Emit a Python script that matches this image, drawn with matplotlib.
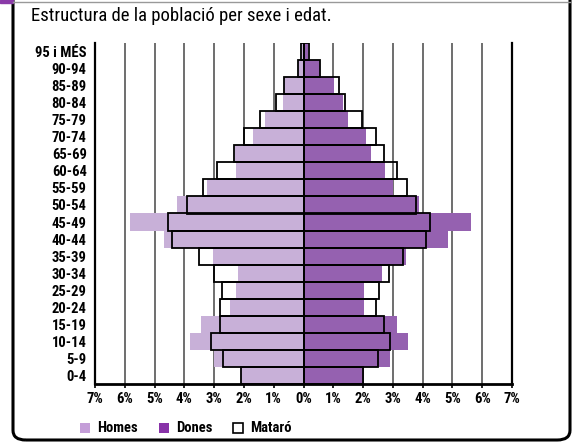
import matplotlib
matplotlib.use("Agg")
import matplotlib.pyplot as plt
from matplotlib import font_manager
from matplotlib.patches import FancyBboxPatch, Rectangle
import numpy as np

# age groups, bottom to top
ages = ['0-4', '5-9', '10-14', '15-19', '20-24', '25-29', '30-34', '35-39',
        '40-44', '45-49', '50-54', '55-59', '60-64', '65-69', '70-74',
        '75-79', '80-84', '85-89', '90-94', '95 i MÉS']

# % of population (district)
homes = [2.09, 3.02, 3.82, 3.44, 2.47, 2.27, 2.19, 3.04, 4.68, 5.82,
         4.25, 3.23, 2.27, 2.30, 1.70, 1.28, 0.68, 0.64, 0.19, 0.05]
dones = [2.01, 2.90, 3.51, 3.14, 2.03, 2.03, 2.63, 3.43, 4.85, 5.63,
         3.89, 3.00, 2.73, 2.26, 2.09, 1.50, 1.33, 1.03, 0.56, 0.15]

# % of population (Mataró, outline)
mat_homes = [2.09, 2.69, 3.10, 2.81, 2.79, 2.74, 3.00, 3.52, 4.41, 4.54,
             3.90, 3.36, 2.89, 2.35, 2.00, 1.46, 0.94, 0.64, 0.19, 0.07]
mat_dones = [2.01, 2.50, 2.89, 2.69, 2.42, 2.52, 2.86, 3.35, 4.11, 4.24,
             3.77, 3.48, 3.14, 2.69, 2.44, 1.98, 1.41, 1.18, 0.56, 0.18]

ticks = list(range(-7, 8))
tick_labels = [f'{abs(t)}%' for t in ticks]
legend_labels = ['Homes', 'Dones', 'Mataró']

c_homes = '#c8b0d8'
c_dones = '#9561b0'

# condensed face if there is one
have = {f.name for f in font_manager.fontManager.ttflist}
narrow = None
for fam in ['Liberation Sans Narrow', 'Roboto Condensed', 'Open Sans Condensed']:
    if fam in have:
        narrow = fam
        break
if narrow:
    plt.rcParams['font.family'] = [narrow, 'DejaVu Sans']
    fs_title, fs_tick = 13.5, 10.5
else:
    plt.rcParams['font.family'] = ['Roboto', 'DejaVu Sans']
    fs_title, fs_tick = 11.5, 8.5

W, H = 578, 442
fig = plt.figure(figsize=(W / 100, H / 100), dpi=100)

# outer frame
frame = FancyBboxPatch((13 / W, 2 / H), 557 / W, 460 / H,
                       boxstyle='round,pad=0,rounding_size=0.022',
                       transform=fig.transFigure, fill=False,
                       edgecolor='black', linewidth=2.2, clip_on=False)
fig.patches.append(frame)
fig.add_artist(plt.Line2D([13 / W, 570 / W], [1 - 1.5 / H, 1 - 1.5 / H],
                          transform=fig.transFigure, color='#999999', lw=1))
fig.patches.append(Rectangle((0, 1 - 3 / H), 13 / W, 3 / H,
                             transform=fig.transFigure, color='#8a3aa8'))

ax = fig.add_axes([95 / W, (H - 384) / H, 417 / W, 341 / H])
y = np.arange(len(ages))

ax.barh(y, [-v for v in homes], height=1, color=c_homes, zorder=2)
ax.barh(y, dones, height=1, color=c_dones, zorder=2)
ax.barh(y, [-v for v in mat_homes], height=1, fill=False,
        edgecolor='black', linewidth=1.3, zorder=3)
ax.barh(y, mat_dones, height=1, fill=False,
        edgecolor='black', linewidth=1.3, zorder=3)
ax.axvline(0, color='black', lw=1.3, zorder=4)

ax.set_xlim(-7, 7)
ax.set_ylim(-0.5, len(ages) - 0.5)
for t in ticks[1:-1]:
    ax.axvline(t, color='#555555', lw=1.2, zorder=1)

ax.set_xticks(ticks)
ax.set_xticklabels(tick_labels, fontsize=fs_tick, fontweight='bold')
ax.set_yticks(y)
ax.set_yticklabels(ages, fontsize=fs_tick, fontweight='bold')
ax.tick_params(axis='y', length=0, pad=6)
ax.tick_params(axis='x', length=3, width=1.2, pad=3)

ax.spines['top'].set_visible(False)
for s in ['left', 'right']:
    ax.spines[s].set_linewidth(1.6)
ax.spines['bottom'].set_linewidth(2)

fig.text(31 / W, 1 - 21 / H, 'Estructura de la població per sexe i edat.',
         fontsize=fs_title, ha='left', va='baseline')

# legend: swatch + label
sw_x = [80, 159, 233]
sw_fc = ['#c49ed8', '#8833a8', 'white']
sw_ec = ['none', 'none', 'black']
for xs, fc, ec, lab in zip(sw_x, sw_fc, sw_ec, legend_labels):
    fig.patches.append(Rectangle((xs / W, 1 - 433 / H), 10 / W, 10 / H,
                                 transform=fig.transFigure, facecolor=fc,
                                 edgecolor=ec, linewidth=1.2))
    fig.text((xs + 17) / W, 1 - 428 / H, lab, fontsize=fs_tick,
             fontweight='bold', ha='left', va='center')

fig.savefig('out.png', dpi=100)
